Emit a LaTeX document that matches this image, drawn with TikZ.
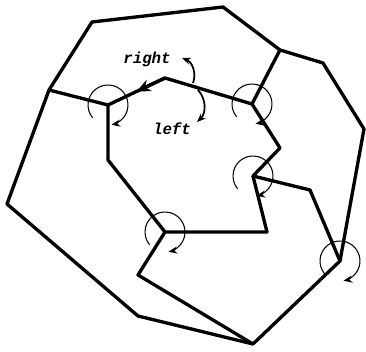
\documentclass[tikz,border=0pt]{standalone}
\usepackage{fontspec}
\setmonofont{Liberation Mono}
\usetikzlibrary{arrows.meta,calc}

\begin{document}
\begin{tikzpicture}[x=0.02cm,y=0.02cm,>={Stealth[length=5pt,width=4pt]},
  edge/.style={line width=1.9pt,line join=round},
  turn/.style={line width=0.6pt,->},
  lbl/.style={font=\ttfamily\bfseries\itshape\fontsize{9}{10}\selectfont}]
  \useasboundingbox (0,0) rectangle (366,352);
  % outer boundary
  \coordinate (P1) at (92,330);
  \coordinate (P2) at (223,345);
  \coordinate (P3) at (280,302);
  \coordinate (P4) at (323,289);
  \coordinate (P5) at (364,223);
  \coordinate (D) at (340,91);
  \coordinate (Bot) at (253,8);
  \coordinate (P8) at (138,36);
  \coordinate (P9) at (7,148);
  \coordinate (P10) at (49,262);
  % inner vertices
  \coordinate (A) at (108,247);
  \coordinate (Q1) at (165,274);
  \coordinate (B) at (252,248);
  \coordinate (Q2) at (280,204);
  \coordinate (C) at (253,176);
  \coordinate (Q3) at (310,162);
  \coordinate (Q4) at (267,120);
  \coordinate (E) at (165,120);
  \coordinate (Q5) at (108,192);
  \coordinate (Q6) at (138,77);
  \draw[edge] (P1)--(P2)--(P3)--(P4)--(P5)--(D)--(Bot)--(P8)--(P9)--(P10)--cycle;
  \draw[edge] (P10)--(A)--(Q1)--(B)--(Q2)--(C)--(Q3)--(D);
  \draw[edge] (B)--(P3);
  \draw[edge] (C)--(Q4)--(E)--(Q5)--(A);
  \draw[edge] (E)--(Q6)--(Bot);
  \draw[edge,-{Stealth[length=8pt,width=7pt]}] (Q1)--($(Q1)!0.5!(A)$);
  % turning circles
  \foreach \v in {A,B,C,D,E}
    \draw[turn] ($(\v)+(220:0.4cm)$) arc[start angle=220,end angle=-80,radius=0.4cm];
  % labels
  \node[lbl] (right) at (147,293) {right};
  \node[lbl] (left) at (172,223) {left};
  \coordinate (r0) at (193,269);
  \coordinate (r1) at (182,294);
  \coordinate (l0) at (198,262);
  \coordinate (l1) at (197,230);
  \draw[turn,line width=1pt] (r0) to[bend right=45] (r1);
  \draw[turn,line width=1pt] (l0) to[bend left=45] (l1);
\end{tikzpicture}
\end{document}
